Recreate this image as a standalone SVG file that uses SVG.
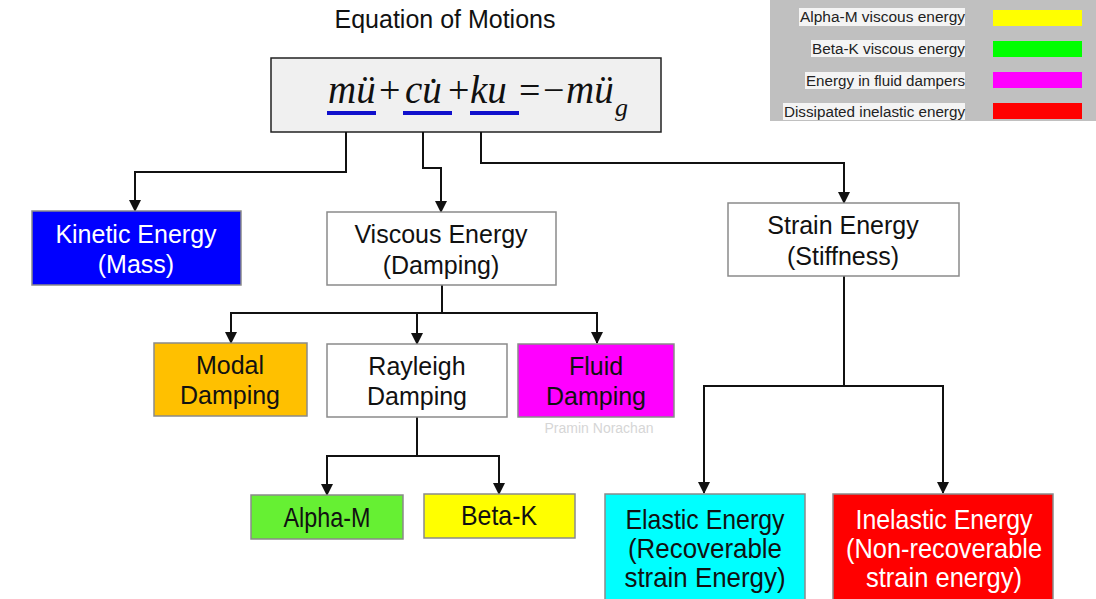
<svg xmlns="http://www.w3.org/2000/svg" width="1096" height="599" viewBox="0 0 1096 599">
<defs>
<marker id="arr" markerUnits="userSpaceOnUse" markerWidth="12" markerHeight="12" viewBox="0 0 12 12" refX="11" refY="6" orient="auto">
<path d="M0,0 L12,6 L0,12 Z" fill="#111"/>
</marker>
<style>
.box{stroke:#8a8a8a;stroke-width:1.5}
.t{font-family:"Liberation Sans",Arial,sans-serif;font-size:25px;text-anchor:middle;fill:#111}
.n{font-family:"Liberation Sans",Arial,sans-serif;font-size:28px;text-anchor:middle;fill:#111}
.w{fill:#fff}
.eq{font-family:"Liberation Serif","Times New Roman",serif;font-style:italic;font-size:39px;fill:#111}
.op{font-family:"Liberation Serif","Times New Roman",serif;font-size:38px;fill:#111}
.lg{font-family:"Liberation Sans",Arial,sans-serif;font-size:14px;fill:#222;text-anchor:end}
.conn path{fill:none;stroke:#111;stroke-width:2}
.ul{stroke:#1010cc;stroke-width:4}
</style>
</defs>
<rect width="1096" height="599" fill="#fff"/>

<g id="legend">
<rect x="770" y="0" width="326" height="121" fill="#c0c0c0"/>
<rect x="799" y="8" width="166" height="18" fill="#f4f4f4"/>
<rect x="811" y="40" width="154" height="17" fill="#f4f4f4"/>
<rect x="805" y="72" width="160" height="17" fill="#f4f4f4"/>
<rect x="783" y="103" width="182" height="17" fill="#f4f4f4"/>
<text class="lg" x="965" y="22" textLength="165" lengthAdjust="spacingAndGlyphs">Alpha-M viscous energy</text>
<text class="lg" x="965" y="54" textLength="153" lengthAdjust="spacingAndGlyphs">Beta-K viscous energy</text>
<text class="lg" x="965" y="86" textLength="159" lengthAdjust="spacingAndGlyphs">Energy in fluid dampers</text>
<text class="lg" x="965" y="117" textLength="181" lengthAdjust="spacingAndGlyphs">Dissipated inelastic energy</text>
<rect x="993" y="10" width="89" height="16" fill="#ffff00"/>
<rect x="993" y="41" width="89" height="16" fill="#00ff00"/>
<rect x="993" y="72" width="89" height="16" fill="#ff00ff"/>
<rect x="993" y="103" width="89" height="16" fill="#ff0000"/>
</g>

<g id="title">
<text x="445" y="28" style="font-family:'Liberation Sans',Arial,sans-serif;font-size:25px;text-anchor:middle;fill:#111">Equation of Motions</text>
</g>

<g id="equation">
<rect x="271" y="58" width="390" height="74" fill="#f0f0f0" stroke="#222" stroke-width="1.5"/>
<text class="eq" x="328" y="103">mü</text>
<text class="op" x="379" y="103">+</text>
<text class="eq" x="405" y="103">cu̇</text>
<text class="op" x="448" y="103">+</text>
<text class="eq" x="470" y="103">ku</text>
<text class="op" x="519" y="103">=</text>
<text class="op" x="543" y="103">−</text>
<text class="eq" x="566" y="103">mü</text>
<text class="eq" x="615" y="116" style="font-size:26px">g</text>
<line class="ul" x1="327" y1="113" x2="376" y2="113"/>
<line class="ul" x1="403" y1="113" x2="452" y2="113"/>
<line class="ul" x1="470" y1="113" x2="519" y2="113"/>
</g>

<g class="conn" id="connectors">
<path d="M346,132 V172 H135 V211" marker-end="url(#arr)"/>
<path d="M423,132 V168 H441 V212" marker-end="url(#arr)"/>
<path d="M481,132 V163 H844 V203" marker-end="url(#arr)"/>
<path d="M442,285 V313 H231 V343" marker-end="url(#arr)"/>
<path d="M442,313 H417 V344" marker-end="url(#arr)"/>
<path d="M442,313 H597 V343" marker-end="url(#arr)"/>
<path d="M417,417 V456 H327 V495" marker-end="url(#arr)"/>
<path d="M417,456 H499 V494" marker-end="url(#arr)"/>
<path d="M844,276 V386 H704 V493" marker-end="url(#arr)"/>
<path d="M844,386 H943 V493" marker-end="url(#arr)"/>
</g>

<g id="kinetic">
<rect class="box" x="32" y="211" width="209" height="74" fill="#0000ff"/>
<text class="t w" x="136" y="243">Kinetic Energy</text>
<text class="t w" x="136" y="273">(Mass)</text>
</g>

<g id="viscous">
<rect class="box" x="327" y="212" width="229" height="73" fill="#fff"/>
<text class="t" x="441" y="243">Viscous Energy</text>
<text class="t" x="441" y="274">(Damping)</text>
</g>

<g id="strain">
<rect class="box" x="728" y="203" width="231" height="73" fill="#fff"/>
<text class="t" x="843" y="234">Strain Energy</text>
<text class="t" x="843" y="265">(Stiffness)</text>
</g>

<g id="modal">
<rect class="box" x="154" y="343" width="153" height="73" fill="#ffc000"/>
<text class="t" x="230" y="374">Modal</text>
<text class="t" x="230" y="404">Damping</text>
</g>

<g id="rayleigh">
<rect class="box" x="327" y="344" width="180" height="73" fill="#fff"/>
<text class="t" x="417" y="375">Rayleigh</text>
<text class="t" x="417" y="405">Damping</text>
</g>

<g id="fluid">
<rect class="box" x="518" y="344" width="156" height="73" fill="#ff00ff"/>
<text class="t" x="596" y="375">Fluid</text>
<text class="t" x="596" y="405">Damping</text>
</g>

<g id="watermark">
<text x="599" y="433" style="font-family:'Liberation Sans',Arial,sans-serif;font-size:14px;text-anchor:middle;fill:#d6d6d6">Pramin Norachan</text>
</g>

<g id="alpha">
<rect class="box" x="251" y="495" width="152" height="44" fill="#66f033"/>
<text class="n" x="327" y="527" textLength="87" lengthAdjust="spacingAndGlyphs">Alpha-M</text>
</g>

<g id="beta">
<rect class="box" x="424" y="494" width="151" height="44" fill="#ffff00"/>
<text class="n" x="499" y="525" textLength="76" lengthAdjust="spacingAndGlyphs">Beta-K</text>
</g>

<g id="elastic">
<rect class="box" x="605" y="494" width="200" height="108" fill="#00ffff"/>
<text class="n" x="705" y="529" textLength="159" lengthAdjust="spacingAndGlyphs">Elastic Energy</text>
<text class="n" x="705" y="558" textLength="154" lengthAdjust="spacingAndGlyphs">(Recoverable</text>
<text class="n" x="705" y="587" textLength="161" lengthAdjust="spacingAndGlyphs">strain Energy)</text>
</g>

<g id="inelastic">
<rect class="box" x="833" y="494" width="220" height="108" fill="#ff0000"/>
<text class="n w" x="944" y="529" textLength="177" lengthAdjust="spacingAndGlyphs">Inelastic Energy</text>
<text class="n w" x="944" y="558" textLength="196" lengthAdjust="spacingAndGlyphs">(Non-recoverable</text>
<text class="n w" x="944" y="587" textLength="156" lengthAdjust="spacingAndGlyphs">strain energy)</text>
</g>
</svg>
